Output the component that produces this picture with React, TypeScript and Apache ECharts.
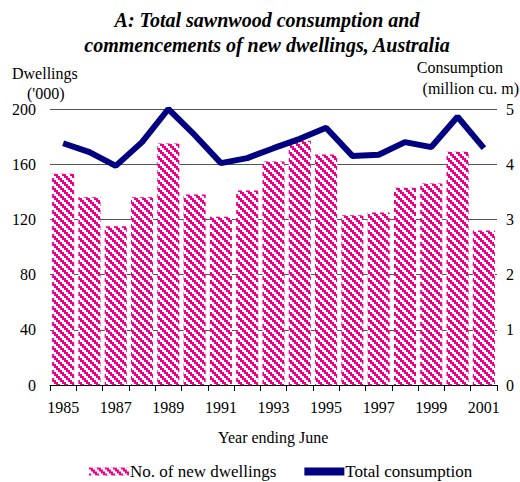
import React, { useEffect, useRef } from "react";
import * as echarts from "echarts";

const years = ["1985","1986","1987","1988","1989","1990","1991","1992","1993","1994","1995","1996","1997","1998","1999","2000","2001"];
const dwellings = [153, 136, 115, 136, 175, 138, 122, 141, 162, 177, 167, 123, 125, 143, 146, 169, 112];
const consumption = [4.38, 4.22, 3.97, 4.4, 5.0, 4.53, 4.02, 4.11, 4.29, 4.46, 4.66, 4.15, 4.17, 4.4, 4.31, 4.86, 4.29];
const leftTicks = [0, 40, 80, 120, 160, 200];
const rightTicks = [0, 1, 2, 3, 4, 5];

const FONT = "Liberation Serif";
const PINK = "#EC008C";
const NAVY = "#000080";

function makePattern(): HTMLCanvasElement {
  const c = document.createElement("canvas");
  const n = 8;
  c.width = n;
  c.height = n;
  const ctx = c.getContext("2d")!;
  ctx.fillStyle = "#ffffff";
  ctx.fillRect(0, 0, n, n);
  ctx.fillStyle = PINK;
  for (let y = 0; y < n; y++) {
    for (let x = 0; x < n; x++) {
      const d = (((Math.floor(x / 2) - Math.floor(y / 2)) % 4) + 4) % 4;
      if (d < 2) ctx.fillRect(x, y, 1, 1);
    }
  }
  return c;
}

export default function App() {
  const ref = useRef<HTMLDivElement>(null);
  useEffect(() => {
    document.body.style.margin = "0";
    if (!ref.current) return;
    const chart = echarts.init(ref.current, undefined, { renderer: "svg" });
    const pattern = { image: makePattern(), repeat: "repeat" as const };
    chart.setOption({
      animation: false,
      backgroundColor: "#ffffff",
      textStyle: { fontFamily: FONT },
      title: {
        text: "A: Total sawnwood consumption and\ncommencements of new dwellings, Australia",
        left: 262,
        top: 2,
        textAlign: "center",
        textStyle: { fontFamily: FONT, fontSize: 20, fontWeight: "bold", fontStyle: "italic", color: "#000", lineHeight: 25 },
      },
      graphic: [
        { type: "text", left: 12, top: 65, style: { text: "Dwellings", fontFamily: FONT, fontSize: 16, fill: "#000" } },
        { type: "text", left: 27, top: 85, style: { text: "('000)", fontFamily: FONT, fontSize: 16, fill: "#000" } },
        { type: "text", right: 17, top: 59, style: { text: "Consumption", fontFamily: FONT, fontSize: 16, fill: "#000" } },
        { type: "text", right: 1, top: 80, style: { text: "(million cu. m)", fontFamily: FONT, fontSize: 16, fill: "#000" } },
        { type: "text", left: 218, top: 429, style: { text: "Year ending June", fontFamily: FONT, fontSize: 16, fill: "#000" } },
      ],
      legend: {
        top: 458,
        left: 84,
        itemGap: 28,
        itemWidth: 40,
        itemHeight: 8,
        textStyle: { fontFamily: FONT, fontSize: 17, color: "#000", padding: [0, 0, 0, -4] },
        data: [
          { name: "No. of new dwellings", icon: "rect" },
          { name: "Total consumption", icon: "rect", itemStyle: { color: NAVY } },
        ],
      },
      grid: { left: 50, right: 23, top: 109, bottom: 97 },
      xAxis: {
        type: "category",
        data: years,
        boundaryGap: true,
        axisLine: { lineStyle: { color: "#000", width: 1 } },
        axisTick: { show: true, interval: 0, length: 6, lineStyle: { color: "#000" } },
        axisLabel: { interval: 1, fontFamily: FONT, fontSize: 16, color: "#000", margin: 14 },
      },
      yAxis: [
        {
          type: "value",
          min: 0,
          max: 200,
          interval: 40,
          axisLine: { show: false },
          axisTick: { show: false },
          splitLine: { lineStyle: { color: "#555", width: 1 } },
          axisLabel: { fontFamily: FONT, fontSize: 16, color: "#000", margin: 14,
            customValues: leftTicks },
        },
        {
          type: "value",
          min: 0,
          max: 5,
          interval: 1,
          position: "right",
          axisLine: { show: false },
          axisTick: { show: false },
          splitLine: { show: false },
          axisLabel: { fontFamily: FONT, fontSize: 16, color: "#000", margin: 9,
            customValues: rightTicks },
        },
      ],
      series: [
        {
          name: "No. of new dwellings",
          type: "bar",
          data: dwellings,
          barCategoryGap: "16%",
          itemStyle: { color: pattern as any },
        },
        {
          name: "Total consumption",
          type: "line",
          yAxisIndex: 1,
          data: consumption,
          symbol: "none",
          lineStyle: { color: NAVY, width: 6 },
          itemStyle: { color: NAVY },
        },
      ],
    });
    return () => chart.dispose();
  }, []);
  return <div ref={ref} style={{ width: 520, height: 482 }} />;
}
